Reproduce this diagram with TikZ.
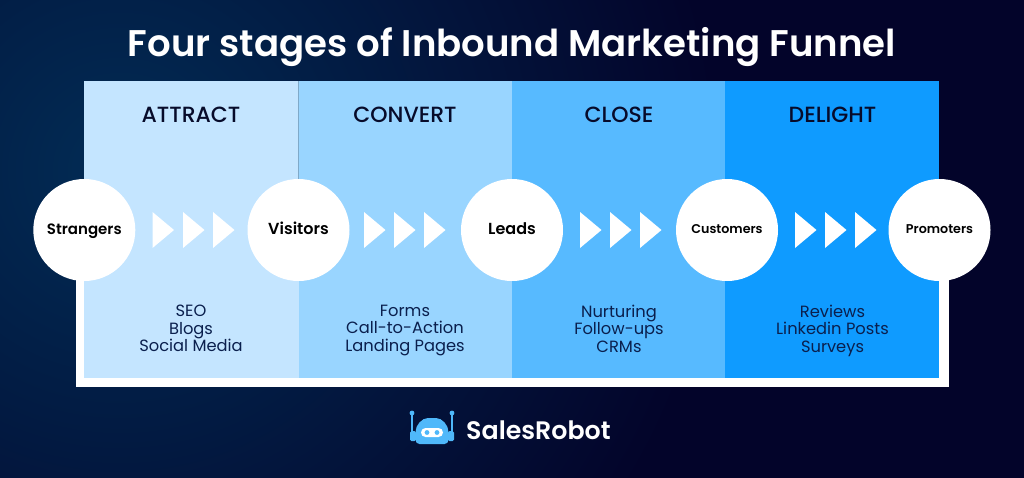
\documentclass[tikz,border=0pt]{standalone}
\usepackage{fontspec}
\setmainfont{Poppins}
\newfontfamily\pmed{Poppins Medium}
\newfontfamily\psemi{Poppins SemiBold}
\definecolor{bgdark}{HTML}{03042A}
\definecolor{bglight}{HTML}{022C55}
\definecolor{panelA}{HTML}{C4E5FF}
\definecolor{panelB}{HTML}{99D5FF}
\definecolor{panelC}{HTML}{57BAFF}
\definecolor{panelD}{HTML}{0F9BFF}
\definecolor{divider}{HTML}{7FA9C9}
\definecolor{inkdark}{HTML}{070B2A}
\definecolor{inklist}{HTML}{0A1F4D}
\definecolor{logoblue}{HTML}{4FB8FA}
\newcommand{\lst}{\vphantom{Ag}}
\tikzset{
  x=1pt,y=-1pt,
  heading/.style={text=inkdark,font=\pmed\fontsize{22}{26}\selectfont,inner sep=0pt,anchor=center,text height=16pt,text depth=0pt},
  listing/.style={text=inklist,font=\fontsize{16.3}{17.5}\selectfont,align=center,inner sep=0pt,anchor=center},
  stage/.style={circle,fill=white,draw=none,minimum size=102pt,inner sep=0pt,text=black,font=\psemi\fontsize{16}{18}\selectfont,text height=12pt,text depth=3pt},
  stagemid/.style={stage,font=\psemi\fontsize{15}{18}\selectfont,text height=11pt,text depth=3pt},
  stagesmall/.style={stage,font=\psemi\fontsize{12.7}{15}\selectfont,text height=10pt,text depth=2.5pt},
  chevron/.style={fill=white,draw=none}
}
\begin{document}
\begin{tikzpicture}
\useasboundingbox (0,0) rectangle (1024,477);
\begin{scope}
\clip (-2,-2) rectangle (1026,479);
\fill[bgdark] (-2,-2) rectangle (1026,479);
\shade[inner color=bglight,outer color=bgdark] (120,170) circle (600);
\end{scope}
\node[text=white,inner sep=0pt,font=\psemi\fontsize{37.1}{42}\selectfont] (title) at (512,47) {Four stages of Inbound Marketing Funnel};
\fill[white] (76,240) rectangle (949,387);
\fill[panelA] (84,81) rectangle (298.5,378);
\fill[panelB] (298.5,81) rectangle (512,378);
\fill[panelC] (512,81) rectangle (725,378);
\fill[panelD] (725,81) rectangle (939,378);
\node[heading] (h1) at (191,114) {ATTRACT};
\node[heading] (h2) at (405,114) {CONVERT};
\node[heading] (h3) at (619,114) {CLOSE};
\node[heading] (h4) at (832.5,114) {DELIGHT};
\foreach \a in {152.5,183,213,364,394,424,580,610,640,795,825,855}{
  \fill[chevron] (\a,212) -- (\a+21.5,230) -- (\a,248) -- cycle;
}
\node[stagemid] (strangers) at (84.3,230) {Strangers};
\node[stage] (visitors) at (298.5,230) {Visitors};
\node[stage] (leads) at (512,230) {Leads};
\node[stagesmall] (customers) at (727,230) {Customers};
\node[stagesmall] (promoters) at (939.5,230) {Promoters};
\coordinate (dividertop) at (298.5,81);
\draw[divider,line width=0.6pt] (dividertop) -- (visitors.north);
\node[listing] (l1) at (191,330.5) {\lst SEO\\\lst Blogs\\\lst Social Media};
\node[listing] (l2) at (405,330.5) {\lst Forms\\\lst Call-to-Action\\\lst Landing Pages};
\node[listing] (l3) at (619,330.5) {\lst Nurturing\\\lst Follow-ups\\\lst CRMs};
\node[listing] (l4) at (832.5,330.5) {\lst Reviews\\\lst Linkedin Posts\\\lst Surveys};
\draw[logoblue,line width=1.3pt] (412,413) -- (412,433);
\draw[logoblue,line width=1.3pt] (452,413) -- (452,433);
\fill[logoblue] (412,413) circle (2.4);
\fill[logoblue] (452,413) circle (2.4);
\fill[logoblue,rounded corners=1.5pt] (410,431) rectangle (416,441);
\fill[logoblue,rounded corners=1.5pt] (448,431) rectangle (454,441);
\fill[logoblue,rounded corners=4pt] (415.5,444) -- (415.5,436) .. controls (415.5,425) and (422,418) .. (432,418) .. controls (442,418) and (448.5,425) .. (448.5,436) -- (448.5,444) -- cycle;
\fill[white,rounded corners=4.5pt] (421,428) rectangle (443,437);
\fill[logoblue] (427,432.5) circle (2.4);
\fill[logoblue] (437,432.5) circle (2.4);
\node[text=white,inner sep=0pt,font=\psemi\fontsize{25.3}{30}\selectfont,anchor=west] (brand) at (466,430) {SalesRobot};
\end{tikzpicture}
\end{document}
